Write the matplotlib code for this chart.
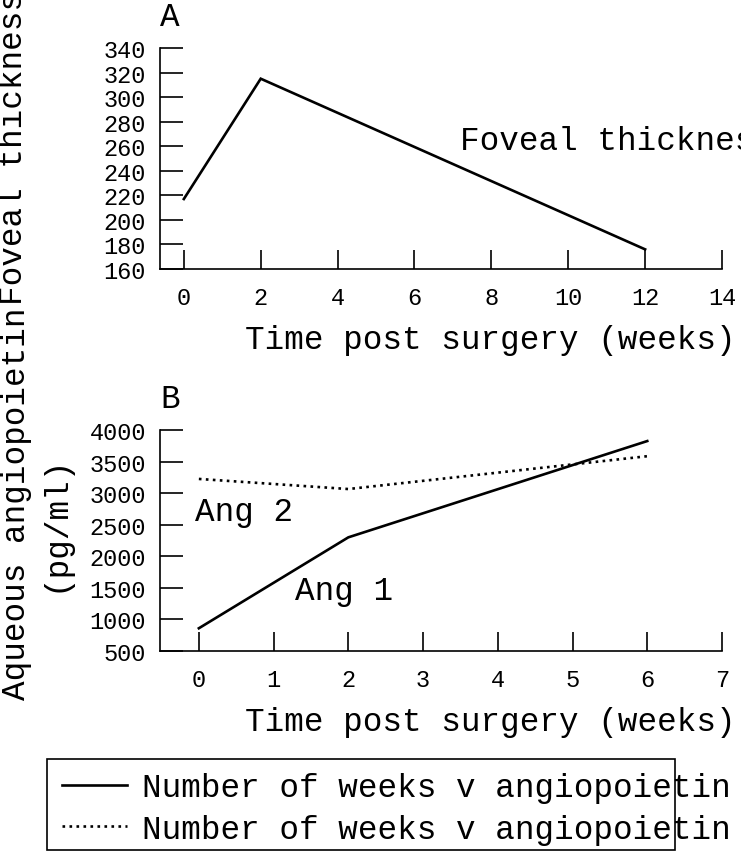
import matplotlib
matplotlib.use("Agg")
import matplotlib.pyplot as plt
from matplotlib.patches import Rectangle

# Panel A: foveal thickness
weeks_a = [0, 2, 12]
foveal = [217, 315, 176]
yticks_a = [160, 180, 200, 220, 240, 260, 280, 300, 320, 340]
xticks_a = [0, 2, 4, 6, 8, 10, 12, 14]

# Panel B: aqueous angiopoietin (pg/ml)
weeks_b = [0, 2, 6]
ang1 = [860, 2300, 3825]
ang2 = [3225, 3065, 3585]
yticks_b = [500, 1000, 1500, 2000, 2500, 3000, 3500, 4000]
xticks_b = [0, 1, 2, 3, 4, 5, 6, 7]

plt.rcParams['font.family'] = ['Liberation Mono', 'DejaVu Sans']

W, H = 741, 853
fig = plt.figure(figsize=(W / 100, H / 100), dpi=100)


def px_axes(x0, y0, x1, y1):
    # pixel box (top-left origin) -> figure fraction
    return fig.add_axes([x0 / W, 1 - y1 / H, (x1 - x0) / W, (y1 - y0) / H])


def style(ax):
    for s in ['top', 'right']:
        ax.spines[s].set_visible(False)
    for s in ['left', 'bottom']:
        ax.spines[s].set_linewidth(1.2)
    ax.tick_params(axis='both', direction='in', width=1.2, labelsize=17)
    ax.tick_params(axis='x', length=13.5, pad=12)
    ax.tick_params(axis='y', length=16.5, pad=10)


big = 23.5

# ---- A ----
axA = px_axes(160, 49, 722, 270)
axA.plot(weeks_a, foveal, color='black', lw=1.9, solid_joinstyle='miter')
axA.set_xlim(-0.62, 14)
axA.set_ylim(160, 340)
axA.set_xticks(xticks_a)
axA.set_yticks(yticks_a)
style(axA)
axA.set_xlabel("Time post surgery (weeks)", fontsize=big)
axA.xaxis.set_label_coords(0.587, -0.25)
axA.text(460 / W, 1 - 142 / H, "Foveal thickness", fontsize=big,
         transform=fig.transFigure, va='center', ha='left')

# ---- B ----
axB = px_axes(160, 431, 722, 652)
axB.plot(weeks_b, ang1, color='black', lw=1.9, label="Number of weeks v angiopoietin 1")
axB.plot(weeks_b, ang2, color='black', lw=1.9, linestyle=(0, (2, 1.6)),
         label="Number of weeks v angiopoietin 2")
axB.set_xlim(-0.52, 7)
axB.set_ylim(500, 4000)
axB.set_xticks(xticks_b)
axB.set_yticks(yticks_b)
style(axB)
axB.set_xlabel("Time post surgery (weeks)", fontsize=big)
axB.xaxis.set_label_coords(0.587, -0.25)
fig.text(195 / W, 1 - 513 / H, "Ang 2", fontsize=big, va='center', ha='left')
fig.text(295 / W, 1 - 592 / H, "Ang 1", fontsize=big, va='center', ha='left')

# panel letters
fig.text(170 / W, 1 - 18 / H, "A", fontsize=big, ha='center', va='center')
fig.text(170 / W, 1 - 400 / H, "B", fontsize=big, ha='center', va='center')

# y labels
fig.text(14 / W, 1 - 305 / H, "Foveal thickness", fontsize=big, rotation=90,
         rotation_mode='anchor', ha='left', va='center')
fig.text(16 / W, 1 - 700 / H, "Aqueous angiopoietin", fontsize=big, rotation=90,
         rotation_mode='anchor', ha='left', va='center')
fig.text(55 / W, 1 - 592 / H, "(pg/ml)", fontsize=big, rotation=90,
         rotation_mode='anchor', ha='left', va='center')

# legend with a hand-sized frame
fig.add_artist(Rectangle((47 / W, 1 - 851 / H), (675 - 47) / W, (851 - 760) / H,
                         transform=fig.transFigure, fill=False, lw=1.2, ec='black'))
handles, labels = axB.get_legend_handles_labels()
handles[1].set_linestyle(':')
fig.legend(handles, labels, loc='upper left', bbox_to_anchor=(62 / W, 1 - 773 / H),
           frameon=False, fontsize=big, borderpad=0, borderaxespad=0,
           handlelength=2.0, handletextpad=0.45, labelspacing=0.33)

fig.savefig("out.png", dpi=100)
